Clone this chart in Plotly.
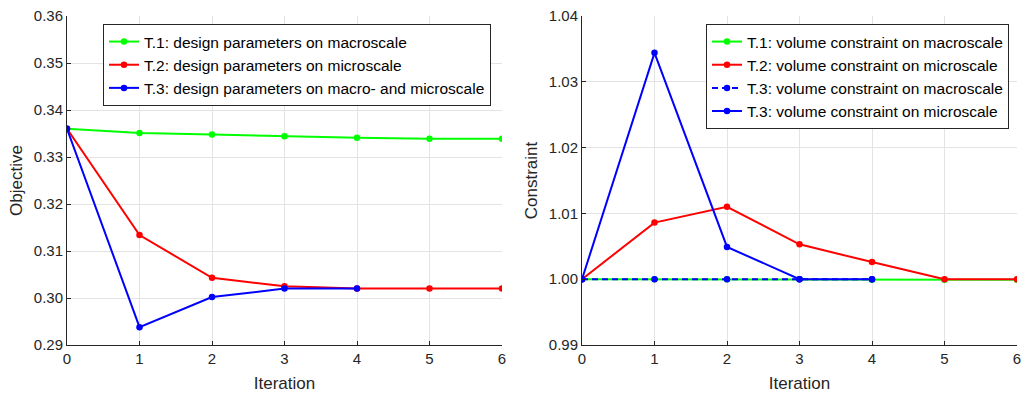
import plotly.graph_objects as go

iterations = [0, 1, 2, 3, 4, 5, 6]

# Objective (left)
obj_t1 = [0.3360, 0.3351, 0.3348, 0.3344, 0.3341, 0.3339, 0.3339]
obj_t2 = [0.3360, 0.3134, 0.3043, 0.3025, 0.3020, 0.3020, 0.3020]
obj_t3 = [0.3360, 0.2938, 0.3002, 0.3020, 0.3020]

# Constraint (right)
con_t1_macro = [1.0000, 1.0000, 1.0000, 1.0000, 0.9999, 0.9999, 0.9999]
con_t2_micro = [1.0000, 1.0086, 1.0110, 1.0053, 1.0026, 1.0000, 1.0000]
con_t3_macro = [1.0000, 1.0000, 1.0000, 1.0000, 1.0000]
con_t3_micro = [1.0000, 1.0344, 1.0049, 1.0000, 1.0000]

names_left = ["T.1: design parameters on macroscale",
              "T.2: design parameters on microscale",
              "T.3: design parameters on macro- and microscale"]
names_right = ["T.1: volume constraint on macroscale",
               "T.2: volume constraint on microscale",
               "T.3: volume constraint on macroscale",
               "T.3: volume constraint on microscale"]

GREEN, RED, BLUE = "#00ff00", "#ff0000", "#0000ff"
FONT = "Liberation Sans, Arial, sans-serif"

fig = go.Figure()

def add(x, y, color, name, xa, ya, leg, dash="solid"):
    fig.add_trace(go.Scatter(
        x=x, y=y, mode="lines+markers", name=name,
        line=dict(color=color, width=2, dash=dash),
        marker=dict(color=color, size=6.5),
        xaxis=xa, yaxis=ya, legend=leg))

add(iterations, obj_t1, GREEN, names_left[0], "x", "y", "legend")
add(iterations, obj_t2, RED, names_left[1], "x", "y", "legend")
add(iterations[:len(obj_t3)], obj_t3, BLUE, names_left[2], "x", "y", "legend")

add(iterations, con_t1_macro, GREEN, names_right[0], "x2", "y2", "legend2")
add(iterations, con_t2_micro, RED, names_right[1], "x2", "y2", "legend2")
add(iterations[:len(con_t3_macro)], con_t3_macro, BLUE, names_right[2], "x2", "y2", "legend2", dash="6px,4px")
add(iterations[:len(con_t3_micro)], con_t3_micro, BLUE, names_right[3], "x2", "y2", "legend2")

W, H = 1022, 393
ytop, ybot = 1 - 16 / H, 1 - 345 / H

axis_common = dict(
    showgrid=True, gridcolor="#e3e3e3", gridwidth=1,
    showline=True, linecolor="#262626", linewidth=1,
    ticks="inside", ticklen=4, tickcolor="#262626",
    tickfont=dict(family=FONT, size=15, color="#262626"),
    zeroline=False, automargin=False,
)

fig.update_layout(
    width=W, height=H,
    margin=dict(l=0, r=0, t=0, b=0),
    paper_bgcolor="white", plot_bgcolor="white",
    font=dict(family=FONT, color="#262626"),
    showlegend=True,
    xaxis=dict(domain=[67 / W, 502 / W], range=[0, 6], dtick=1, anchor="y",
               title=dict(text="Iteration", font=dict(size=17), standoff=11), **axis_common),
    yaxis=dict(domain=[ybot, ytop], range=[0.29, 0.36], dtick=0.01, tickformat=".2f", anchor="x",
               title=dict(text="Objective", font=dict(size=17), standoff=6), **axis_common),
    xaxis2=dict(domain=[582 / W, 1017 / W], range=[0, 6], dtick=1, anchor="y2",
                title=dict(text="Iteration", font=dict(size=17), standoff=11), **axis_common),
    yaxis2=dict(domain=[ybot, ytop], range=[0.99, 1.04], dtick=0.01, tickformat=".2f", anchor="x2",
                title=dict(text="Constraint", font=dict(size=17), standoff=6), **axis_common),
    legend=dict(x=103 / W, y=1 - 24 / H, xanchor="left", yanchor="top",
                bgcolor="white", bordercolor="#262626", borderwidth=1,
                font=dict(family=FONT, size=15.5, color="#000000"),
                tracegroupgap=0, itemwidth=30),
    legend2=dict(x=1009 / W, y=1 - 24 / H, xanchor="right", yanchor="top",
                 bgcolor="white", bordercolor="#262626", borderwidth=1,
                 font=dict(family=FONT, size=15.5, color="#000000"),
                 tracegroupgap=0, itemwidth=30),
)

fig.write_html("out.html")
